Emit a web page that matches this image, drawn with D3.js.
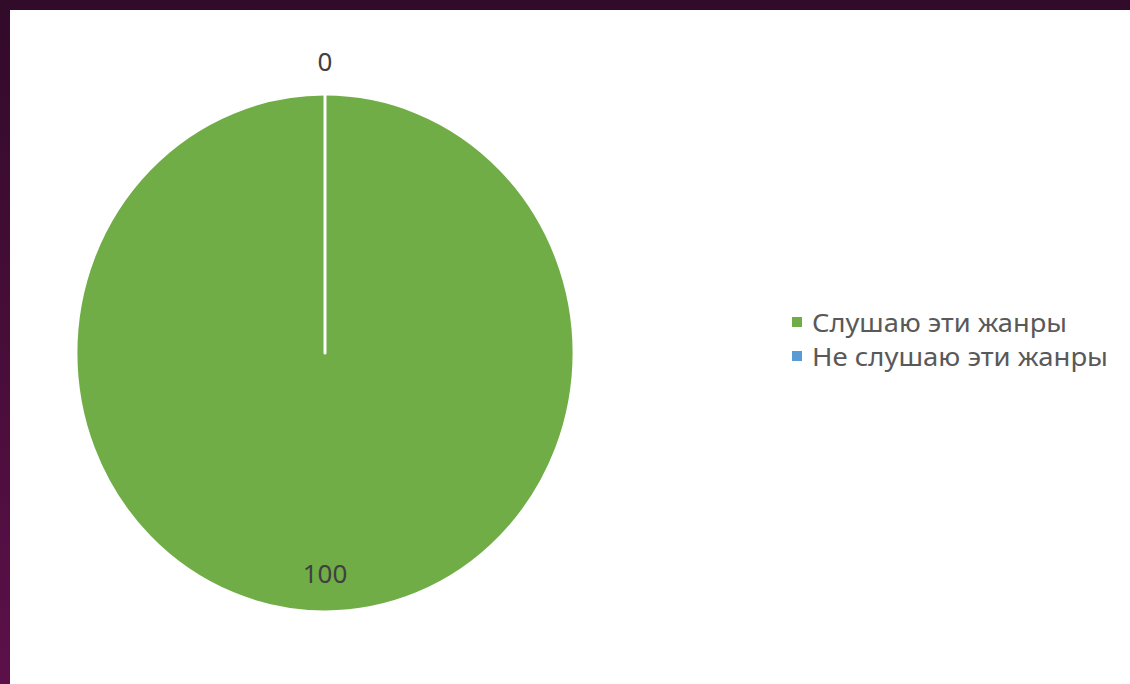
<!DOCTYPE html>
<html>
<head>
<meta charset="utf-8">
<script src="https://cdn.jsdelivr.net/npm/d3@7"></script>
<style>
  html, body { margin: 0; padding: 0; overflow: hidden; }
  text { font-family: "Noto Sans", "Open Sans", sans-serif; }
</style>
</head>
<body>
<svg id="chart"></svg>
<script>
'use strict';

// data
let categories = ['Слушаю эти жанры', 'Не слушаю эти жанры'];
let values = [100, 0];
let colors = ['#70AD47', '#5B9BD5'];

let width = 1130;
let height = 684;

let svg = d3.select('#chart')
  .attr('width', width)
  .attr('height', height);

// dark purple frame round the slide
let defs = svg.append('defs');
let grad = defs.append('linearGradient')
  .attr('id', 'frame')
  .attr('x1', 0).attr('y1', 0)
  .attr('x2', 0).attr('y2', 1);
grad.append('stop').attr('offset', '0%').attr('stop-color', '#320a2a');
grad.append('stop').attr('offset', '100%').attr('stop-color', '#5c1049');

svg.append('rect')
  .attr('width', width).attr('height', height)
  .attr('fill', 'url(#frame)');

svg.append('rect')
  .attr('x', 10).attr('y', 10)
  .attr('width', width - 10).attr('height', height - 10)
  .attr('fill', '#ffffff');

// pie, a bit taller than wide like the picture
let cx = 325;
let cy = 353;
let radius = 249;
let sy = 1.04;

let pie = d3.pie().sort(null).value(d => d);
let arcs = pie(values);

let arc = d3.arc().innerRadius(0).outerRadius(radius);

let pieG = svg.append('g')
  .attr('transform', `translate(${cx}, ${cy}) scale(1, ${sy})`);

pieG.selectAll('path')
  .data(arcs)
  .enter()
  .append('path')
  .attr('d', arc)
  .attr('fill', (d, i) => colors[i])
  .attr('stroke', '#ffffff')
  .attr('stroke-width', 3)
  .attr('stroke-linejoin', 'round');

// data labels: big slice inside, zero slice outside at the top
let insideArc = d3.arc().innerRadius(radius * 0.85).outerRadius(radius * 0.85);
let outsideArc = d3.arc().innerRadius(radius + 32).outerRadius(radius + 32);

svg.append('g')
  .selectAll('text')
  .data(arcs)
  .enter()
  .append('text')
  .attr('x', (d, i) => cx + (i === 0 ? insideArc : outsideArc).centroid(d)[0])
  .attr('y', (d, i) => cy + (i === 0 ? insideArc : outsideArc).centroid(d)[1] * sy)
  .attr('text-anchor', 'middle')
  .attr('dominant-baseline', 'central')
  .attr('font-size', 26)
  .attr('fill', '#404040')
  .text(d => d.data);

// legend
let legend = svg.append('g')
  .attr('transform', 'translate(792, 322)');

let items = legend.selectAll('g')
  .data(categories)
  .enter()
  .append('g')
  .attr('transform', (d, i) => `translate(0, ${i * 34})`);

items.append('rect')
  .attr('x', 0).attr('y', -5)
  .attr('width', 10).attr('height', 10)
  .attr('fill', (d, i) => colors[i]);

let legendLen = [255, 296];
items.append('text')
  .attr('x', 20)
  .attr('y', 0)
  .attr('dominant-baseline', 'central')
  .attr('font-size', 25)
  .attr('fill', '#595959')
  .attr('textLength', (d, i) => legendLen[i])
  .attr('lengthAdjust', 'spacingAndGlyphs')
  .text(d => d);
</script>
</body>
</html>
